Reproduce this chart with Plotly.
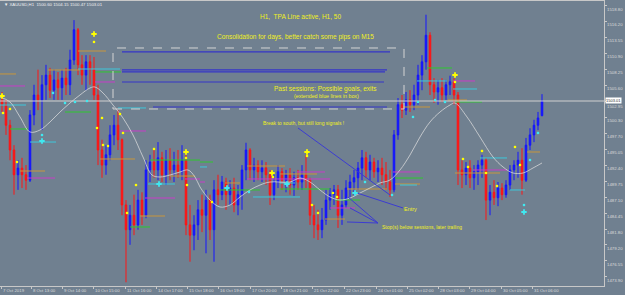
import plotly.graph_objects as go

# ---------------- data (XAUUSD H1, resampled to 136 visible bars) ----------------
bar_open = [1503.2, 1502.4, 1499.0, 1494.9, 1490.8, 1491.9, 1490.8, 1489.9, 1500.7, 1504.0,
            1503.2, 1505.7, 1507.3, 1504.8, 1506.5, 1505.2, 1506.8, 1505.7, 1509.8, 1514.8,
            1509.0, 1507.3, 1509.5, 1508.2, 1504.0, 1494.9, 1492.4, 1494.1, 1497.4, 1499.0,
            1496.6, 1485.8, 1481.7, 1484.1, 1482.5, 1486.6, 1484.1, 1491.6, 1492.9, 1491.6,
            1493.6, 1490.8, 1493.2, 1491.6, 1492.4, 1491.3, 1493.2, 1482.5, 1480.8, 1482.5,
            1485.0, 1484.1, 1486.6, 1481.7, 1488.3, 1487.5, 1489.6, 1487.5, 1488.6, 1485.8,
            1487.5, 1491.6, 1494.9, 1491.6, 1492.4, 1491.3, 1491.9, 1490.8, 1487.5, 1489.6,
            1491.3, 1489.9, 1490.8, 1489.1, 1490.3, 1489.6, 1490.8, 1489.9, 1484.1, 1482.5,
            1481.7, 1483.3, 1486.6, 1487.5, 1488.3, 1484.1, 1485.8, 1488.6, 1489.6, 1490.3,
            1491.9, 1493.6, 1491.6, 1492.9, 1491.3, 1491.9, 1490.8, 1489.6, 1488.3, 1497.4,
            1502.4, 1501.5, 1503.2, 1502.4, 1504.0, 1507.3, 1509.5, 1513.9, 1505.7, 1504.5,
            1505.2, 1504.0, 1505.7, 1506.2, 1504.0, 1491.6, 1490.8, 1491.9, 1490.3, 1491.3,
            1492.4, 1493.2, 1486.6, 1487.9, 1487.0, 1488.6, 1487.5, 1489.1, 1491.6, 1492.4,
            1493.2, 1489.9, 1495.7, 1497.4, 1499.0, 1500.60]
bar_high = [1504.5, 1503.2, 1499.9, 1495.7, 1493.2, 1493.6, 1492.4, 1501.5, 1505.7, 1508.2,
            1507.3, 1509.0, 1508.5, 1508.2, 1507.8, 1508.2, 1508.5, 1511.5, 1516.4, 1515.1,
            1510.6, 1510.6, 1510.6, 1510.3, 1505.7, 1496.6, 1495.7, 1499.0, 1500.7, 1501.5,
            1496.8, 1486.6, 1485.8, 1487.5, 1488.3, 1487.9, 1493.2, 1494.1, 1494.9, 1496.2,
            1494.6, 1494.9, 1495.2, 1494.6, 1494.9, 1495.7, 1494.1, 1485.8, 1484.1, 1486.6,
            1487.5, 1488.3, 1487.5, 1489.9, 1490.8, 1490.6, 1490.3, 1489.9, 1490.3, 1489.1,
            1492.4, 1496.1, 1495.2, 1493.6, 1493.2, 1493.2, 1492.9, 1491.6, 1490.8, 1492.4,
            1491.9, 1491.6, 1491.9, 1491.3, 1491.6, 1492.4, 1494.1, 1490.3, 1485.8, 1485.0,
            1485.3, 1488.3, 1488.6, 1489.1, 1489.1, 1488.3, 1489.9, 1490.8, 1491.6, 1492.9,
            1494.9, 1494.6, 1494.1, 1493.6, 1493.2, 1493.6, 1492.9, 1491.6, 1498.2, 1503.5,
            1504.0, 1504.5, 1504.8, 1505.7, 1509.0, 1510.6, 1517.3, 1514.4, 1506.8, 1506.5,
            1506.8, 1506.5, 1507.2, 1506.8, 1504.5, 1493.2, 1492.9, 1493.2, 1492.4, 1493.2,
            1494.1, 1493.6, 1489.1, 1489.9, 1489.6, 1489.4, 1489.9, 1492.4, 1493.2, 1494.6,
            1495.2, 1496.9, 1498.5, 1499.9, 1501.2, 1504.15]
bar_low = [1501.2, 1497.4, 1493.2, 1487.5, 1488.3, 1488.6, 1488.3, 1489.6, 1499.0, 1501.5,
           1498.2, 1503.2, 1503.5, 1503.2, 1503.2, 1503.2, 1504.0, 1504.0, 1509.0, 1507.3,
           1505.7, 1504.8, 1505.7, 1503.2, 1492.4, 1490.3, 1490.8, 1493.2, 1495.7, 1494.9,
           1484.1, 1473.0, 1479.2, 1480.8, 1481.7, 1482.5, 1483.6, 1489.6, 1490.3, 1489.9,
           1489.6, 1489.1, 1489.9, 1489.6, 1490.3, 1489.9, 1480.8, 1476.4, 1478.3, 1480.0,
           1481.3, 1477.8, 1480.0, 1476.4, 1485.8, 1486.6, 1485.0, 1485.8, 1484.6, 1484.1,
           1485.0, 1489.9, 1489.9, 1489.6, 1489.9, 1489.6, 1489.1, 1485.8, 1486.6, 1488.6,
           1488.3, 1487.9, 1487.5, 1487.3, 1488.3, 1488.3, 1488.6, 1482.5, 1480.3, 1480.0,
           1480.3, 1482.5, 1485.0, 1485.8, 1482.0, 1482.5, 1485.3, 1487.0, 1487.5, 1488.3,
           1489.9, 1490.3, 1489.9, 1490.3, 1489.6, 1489.1, 1488.3, 1487.1, 1487.9, 1496.6,
           1500.2, 1500.7, 1501.2, 1501.5, 1502.4, 1504.8, 1508.2, 1504.0, 1502.7, 1502.4,
           1502.9, 1503.2, 1504.0, 1502.4, 1489.1, 1488.6, 1489.1, 1488.6, 1488.3, 1489.1,
           1490.3, 1483.3, 1484.1, 1485.8, 1485.6, 1486.6, 1487.0, 1488.3, 1489.9, 1490.3,
           1487.5, 1489.6, 1494.9, 1496.2, 1498.2, 1500.47]
bar_close = [1502.4, 1499.0, 1494.9, 1490.8, 1491.9, 1490.8, 1489.9, 1500.7, 1504.0, 1503.2,
             1505.7, 1507.3, 1504.8, 1506.5, 1505.2, 1506.8, 1505.7, 1509.8, 1514.8, 1509.0,
             1507.3, 1509.5, 1508.2, 1504.0, 1494.9, 1492.4, 1494.1, 1497.4, 1499.0, 1496.6,
             1485.8, 1481.7, 1484.1, 1482.5, 1486.6, 1484.1, 1491.6, 1492.9, 1491.6, 1493.6,
             1490.8, 1493.2, 1491.6, 1492.4, 1491.3, 1493.2, 1482.5, 1480.8, 1482.5, 1485.0,
             1484.1, 1486.6, 1481.7, 1488.3, 1487.5, 1489.6, 1487.5, 1488.6, 1485.8, 1487.5,
             1491.6, 1494.9, 1491.6, 1492.4, 1491.3, 1491.9, 1490.8, 1487.5, 1489.6, 1491.3,
             1489.9, 1490.8, 1489.1, 1490.3, 1489.6, 1490.8, 1489.9, 1484.1, 1482.5, 1481.7,
             1483.3, 1486.6, 1487.5, 1488.3, 1484.1, 1485.8, 1488.6, 1489.6, 1490.3, 1491.9,
             1493.6, 1491.6, 1492.9, 1491.3, 1491.9, 1490.8, 1489.6, 1488.3, 1497.4, 1502.4,
             1501.5, 1503.2, 1502.4, 1504.0, 1507.3, 1509.5, 1513.9, 1505.7, 1504.5, 1505.2,
             1504.0, 1505.7, 1506.2, 1504.0, 1491.6, 1490.8, 1491.9, 1490.3, 1491.3, 1492.4,
             1493.2, 1486.6, 1487.9, 1487.0, 1488.6, 1487.5, 1489.1, 1491.6, 1492.4, 1493.2,
             1489.9, 1495.7, 1497.4, 1499.0, 1500.2, 1503.01]
bars = list(range(len(bar_close)))

# moving average (white curve)
ma_bar = [-0.5, 2, 4.5, 7, 9.5, 12, 14.5, 17, 19.5, 22, 23.25, 25.25, 27.75, 30.25, 32.75, 35.25,
          37.5, 39.5, 42, 44.5, 46.5, 48.25, 49.5, 52, 54.5, 57, 59.5, 62, 64.5, 67, 72, 74.5, 77,
          79.5, 82, 84.5, 87, 89.5, 92, 94.5, 97, 99.5, 102, 104.5, 107, 109.5, 112, 113.25, 116.25,
          119.5, 122.75, 125.25, 127.75, 130.25, 132.75, 135]
ma_val = [1503.68, 1502.85, 1500.37, 1497.88, 1498.21, 1499.54, 1501.19, 1502.68, 1504.01, 1505.17,
          1505.33, 1504.34, 1502.35, 1500.20, 1497.38, 1493.74, 1490.76, 1490.43, 1490.76, 1491.26,
          1491.59, 1490.43, 1488.77, 1486.62, 1485.46, 1485.79, 1487.12, 1488.28, 1489.10, 1489.60,
          1489.60, 1490.26, 1489.60, 1488.28, 1487.12, 1486.62, 1486.95, 1487.78, 1488.61, 1489.44,
          1489.93, 1491.59, 1494.07, 1497.05, 1499.54, 1501.19, 1502.35, 1502.68, 1500.37, 1497.05,
          1493.74, 1492.09, 1491.09, 1491.09, 1491.92, 1492.75]

time_labels = ["7 Oct 2019", "8 Oct 13:00", "9 Oct 14:00", "10 Oct 15:00", "11 Oct 16:00",
               "14 Oct 17:00", "15 Oct 18:00", "16 Oct 19:00", "17 Oct 20:00", "18 Oct 21:00",
               "21 Oct 22:00", "22 Oct 23:00", "24 Oct 01:00", "25 Oct 02:00", "28 Oct 03:00",
               "29 Oct 04:00", "30 Oct 05:00", "31 Oct 06:00"]
time_label_bar = [-0.25, 7.25, 15, 22.75, 30.75, 38.5, 46.25, 54, 62, 69.75, 77.5, 85.5, 93.5,
                  101.25, 109, 116.75, 124.75, 132.5]

price_ticks = [1518.80, 1516.20, 1513.55, 1510.90, 1508.25, 1505.60, 1502.95, 1500.30, 1497.70,
               1495.05, 1492.40, 1489.75, 1487.10, 1484.45, 1481.80, 1479.20, 1476.55, 1473.90]
last_price = 1503.01

# session levels: (start bar, end bar, price)
levels_orange = [(-0.5, 3.5, 1507.49), (11.5, 19.5, 1508.15), (19, 26, 1511.29), (24.5, 33.25, 1493.41),
                 (4.5, 10.75, 1491.42), (42, 48.25, 1490.59), (34.5, 40.75, 1483.97), (55.75, 59.5, 1489.44),
                 (61.25, 70.75, 1492.25), (69.5, 78.75, 1490.93), (80.75, 85.75, 1483.47),
                 (86.25, 96.25, 1488.44), (98.25, 104.5, 1489.27), (100.25, 107, 1502.02),
                 (111.5, 116.25, 1503.18), (113.25, 124.5, 1491.09), (131.25, 134.5, 1494.57)]
levels_green = [(23.25, 29.75, 1507.82), (15.75, 22.25, 1501.19), (2, 6.5, 1498.38), (37, 49.5, 1493.24),
                (32, 37, 1482.15), (49.5, 52.75, 1492.91), (54.5, 64.5, 1488.28), (69.5, 82, 1488.44),
                (83.25, 89.5, 1486.62), (98.25, 105.25, 1490.26), (106.25, 112.5, 1508.48),
                (113.25, 120, 1502.85)]
levels_cyan = [(-0.5, 6, 1502.35), (19, 29.5, 1508.31), (29, 36, 1501.86), (7, 13.5, 1496.22),
               (36.5, 43.25, 1489.27), (49.5, 51.25, 1492.09), (62.75, 74.5, 1487.12),
               (69.5, 73.25, 1489.44), (103.75, 111.25, 1506.33), (112.75, 118.75, 1505.00),
               (99.5, 103.75, 1489.10), (119.5, 126.25, 1493.58), (127, 130.75, 1488.28)]
levels_magenta = [(-0.5, 5.75, 1505.50), (23.25, 28.25, 1506.16), (29.5, 36, 1498.05), (6.25, 13.25, 1490.26),
                  (35.75, 43.25, 1486.95), (45.75, 49.5, 1490.10), (49.5, 50.75, 1489.60),
                  (61.25, 82, 1490.10), (73.75, 80.75, 1491.26), (82, 88.25, 1485.30),
                  (97.75, 104.5, 1491.26), (112.75, 118.25, 1506.33), (117.75, 126.25, 1491.59)]
levels_box_blue = [(30, 97, 1511.13), (30, 96.25, 1508.15), (30, 95.75, 1507.82), (30, 95.5, 1506.16),
                   (37.75, 96.25, 1502.02)]
box = (27.75, 100.5, 1501.69, 1511.79)

# signal markers
sig_yellow_cross = [(0, 1503.84), (23, 1514.11), (46, 1494.57), (67.5, 1491.09), (76.25, 1494.57),
                    (113.25, 1507.32)]
sig_cyan_cross = [(10, 1496.39), (39.25, 1489.27), (56.25, 1488.61), (71.25, 1489.27), (88.25, 1487.78),
                  (130.5, 1484.63)]
sig_yellow_dot = [(23, 1512.79), (0.25, 1501.03), (2, 1501.69), (3.75, 1492.91), (23.75, 1498.54),
                  (25, 1500.20), (25.25, 1495.73), (26.5, 1495.56), (29.5, 1500.86), (30.25, 1497.72),
                  (31.25, 1484.47), (33.5, 1489.10), (38, 1495.07), (46, 1493.58), (46.25, 1489.10),
                  (52.5, 1486.29), (67.75, 1490.43), (76.25, 1493.91), (77.5, 1485.79), (79, 1484.47),
                  (82.75, 1487.78), (83.75, 1487.12), (113.25, 1506.16), (115.25, 1493.41),
                  (116.5, 1492.09), (120, 1494.74), (121, 1491.09), (123.75, 1488.94),
                  (128.25, 1495.40), (129.5, 1492.42)]
sig_cyan_dot = [(10, 1497.38), (15.75, 1502.68), (18.25, 1502.85), (21.25, 1503.01), (12.75, 1504.34),
                (61.75, 1487.94), (102.75, 1500.37), (104, 1502.85), (108.25, 1503.18), (110.75, 1502.85),
                (132, 1493.24), (134, 1497.72), (90.75, 1489.60), (97.5, 1487.45), (130.5, 1485.79)]

# pointer lines of the notes: ((bar, price), (bar, price))
pointers = [((74, 1498.54), (97, 1487.45)),
            ((100.25, 1485.30), (88.75, 1487.78)),
            ((94, 1482.81), (86.5, 1487.12)),
            ((94, 1482.81), (87, 1485.30)),
            ((94, 1482.81), (86.25, 1482.98))]

BG = "#708090"
FONT = "Liberation Sans, Arial, sans-serif"
AXIS_TXT = "#dcdcdc"

fig = go.Figure()


def seg_trace(levels, color, width=1, dash=None):
    xs, ys = [], []
    for x0, x1, p in levels:
        xs += [x0, x1, None]
        ys += [p, p, None]
    fig.add_trace(go.Scatter(x=xs, y=ys, mode="lines", hoverinfo="skip",
                             line=dict(color=color, width=width, dash=dash)))


# box blue lines
seg_trace(levels_box_blue, "#3535c8", 1.2)

# dashed box
fig.add_shape(type="rect", x0=box[0], x1=box[1], y0=box[2], y1=box[3], xref="x", yref="y",
              line=dict(color="#d4d4d4", width=1, dash="dash"))

# session level segments
seg_trace(levels_orange, "#c8963c")
seg_trace(levels_green, "#2ec82e")
seg_trace(levels_cyan, "#3cc8dc")
seg_trace(levels_magenta, "#c83cc8")

# moving average
fig.add_trace(go.Scatter(x=ma_bar, y=ma_val, mode="lines", hoverinfo="skip",
                         line=dict(color="rgba(225,225,225,0.8)", width=0.9, shape="spline",
                                   smoothing=1.0)))

# current price line
fig.add_trace(go.Scatter(x=[-0.5, 150.5], y=[last_price, last_price], mode="lines", hoverinfo="skip",
                         line=dict(color="#d0d0d0", width=1)))

# candles
fig.add_trace(go.Candlestick(
    x=bars, open=bar_open, high=bar_high, low=bar_low, close=bar_close,
    increasing=dict(line=dict(color="#1414ff", width=1), fillcolor="#1414ff"),
    decreasing=dict(line=dict(color="#ff1414", width=1), fillcolor="#ff1414"),
    whiskerwidth=0, hoverinfo="skip"))

# pointer lines
for (a, b) in pointers:
    fig.add_trace(go.Scatter(x=[a[0], b[0]], y=[a[1], b[1]], mode="lines", hoverinfo="skip",
                             line=dict(color="#3c3cd2", width=1)))

# markers
fig.add_trace(go.Scatter(x=[p[0] for p in sig_yellow_dot], y=[p[1] for p in sig_yellow_dot],
                         mode="markers", hoverinfo="skip",
                         marker=dict(symbol="square", size=2.3, color="#ffff00")))
fig.add_trace(go.Scatter(x=[p[0] for p in sig_cyan_dot], y=[p[1] for p in sig_cyan_dot],
                         mode="markers", hoverinfo="skip",
                         marker=dict(symbol="square", size=2.3, color="#40e8f0")))
fig.add_trace(go.Scatter(x=[p[0] for p in sig_yellow_cross], y=[p[1] for p in sig_yellow_cross],
                         mode="markers", hoverinfo="skip",
                         marker=dict(symbol="cross", size=4.5, color="#ffff00")))
fig.add_trace(go.Scatter(x=[p[0] for p in sig_cyan_cross], y=[p[1] for p in sig_cyan_cross],
                         mode="markers", hoverinfo="skip",
                         marker=dict(symbol="cross", size=4.5, color="#40e8f0")))

# text notes
notes = [
    ("H1,  TPA Line active, H1, 50", 0.498, 0.944, 6.5),
    ("Consolidation for days, better catch some pips on M15", 0.490, 0.874, 6.5),
    ("Past sessions: Possible goals, exits", 0.539, 0.691, 6.5),
    ("(extended blue lines in box)", 0.540, 0.666, 5.3),
    ("Break to south, but still long signals !", 0.502, 0.572, 5.0),
    ("Entry", 0.680, 0.270, 5.5),
    ("Stop(s) below sessions, later trailing", 0.698, 0.207, 5.0),
]
for txt, xp, yp, sz in notes:
    fig.add_annotation(text=txt, x=xp, y=yp, xref="paper", yref="paper", showarrow=False,
                       xanchor="center", yanchor="middle",
                       font=dict(family=FONT, size=sz, color="#f0f020"))

fig.add_annotation(text="▼ XAUUSD,H1  1500.60 1504.15 1500.47 1503.01", x=0.004, y=0.986,
                   xref="paper", yref="paper", showarrow=False, xanchor="left", yanchor="middle",
                   font=dict(family=FONT, size=4.3, color="#f0f0f0"))

# time labels below the axis, left aligned next to their tick
for lbl, b in zip(time_labels, time_label_bar):
    fig.add_annotation(text=lbl, x=b, y=0, xref="x", yref="paper", showarrow=False,
                       xanchor="left", yanchor="top", xshift=1, yshift=-1, borderpad=0,
                       font=dict(family=FONT, size=4.3, color=AXIS_TXT))

# price labels on the right (MT4 draws them a little below each tick;
# the one next to the bid box is pushed further down)
for p in price_ticks:
    extra = -1.5 if abs(p - last_price) < 0.5 else 0
    fig.add_annotation(text=f"{p:.2f}", x=1, y=p, xref="paper", yref="y", showarrow=False,
                       xanchor="left", yanchor="middle", xshift=2, yshift=-3.5 + extra,
                       borderpad=0, font=dict(family=FONT, size=4.3, color=AXIS_TXT))

fig.add_annotation(text="1503.01", x=1, xshift=1, y=last_price, yshift=0.5, xref="paper", yref="y",
                   showarrow=False, xanchor="left", yanchor="middle", bgcolor="#ffffff",
                   borderpad=0, font=dict(family=FONT, size=4.0, color="#303030"))

fig.update_layout(
    width=625, height=295,
    margin=dict(l=0, r=21, t=1, b=9, pad=0),
    paper_bgcolor=BG, plot_bgcolor=BG,
    showlegend=False,
    boxgap=0.45,
    xaxis=dict(range=[-0.5, 150.5], showgrid=False, zeroline=False, rangeslider=dict(visible=False),
               tickvals=time_label_bar, showticklabels=False, ticks="outside", ticklen=2,
               tickcolor="#c8c8c8", automargin=False,
               showline=True, linecolor="#c8c8c8", linewidth=1, mirror=True),
    yaxis=dict(range=[1472.38, 1519.57], side="right", showgrid=False, zeroline=False,
               tickvals=price_ticks, showticklabels=False,
               ticks="outside", ticklen=2, tickcolor="#c8c8c8", automargin=False,
               showline=True, linecolor="#c8c8c8", linewidth=1, mirror=True),
)

fig.write_html("out.html")
